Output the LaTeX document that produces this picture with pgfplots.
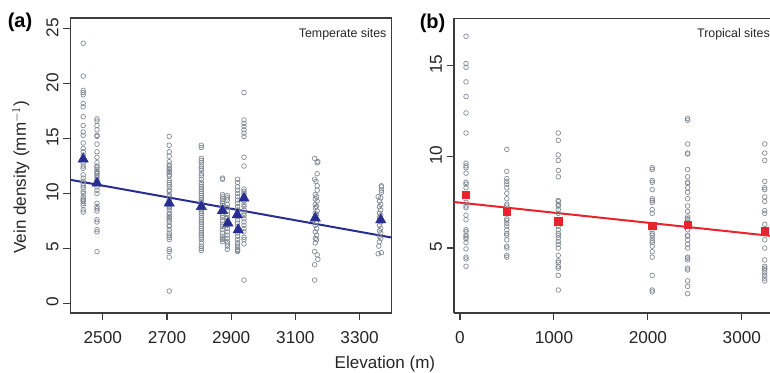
\documentclass[border=0pt]{standalone}
\usepackage{pgfplots}
\usepackage{pgfplotstable}
\pgfplotsset{compat=1.18}
\usepackage{fontspec}
\setmainfont{Liberation Sans}
\definecolor{ptgray}{RGB}{128,136,146}
\definecolor{dblue}{RGB}{40,45,145}
\definecolor{rred}{RGB}{232,35,45}
\definecolor{axgray}{RGB}{60,60,60}

\pgfplotstableread[row sep=\\]{
x y\\
2439 23.7\\ 2439 20.7\\ 2439 19.4\\ 2439 19.2\\ 2439 19.0\\ 2439 18.2\\ 2439 17.9\\ 2439 17.0\\ 2439 16.2\\ 2439 15.6\\ 2439 15.3\\ 2439 14.6\\ 2439 14.1\\ 2439 13.8\\ 2439 13.5\\ 2439 12.8\\ 2439 12.5\\ 2439 12.3\\ 2439 11.7\\ 2439 11.4\\ 2439 11.1\\ 2439 10.9\\ 2439 10.7\\ 2439 10.5\\ 2439 10.2\\ 2439 10.0\\ 2439 9.7\\ 2439 9.5\\ 2439 9.4\\ 2439 9.3\\ 2439 9.1\\ 2439 8.9\\ 2439 8.5\\ 2439 8.3\\
2482 16.8\\ 2482 16.6\\ 2482 16.2\\ 2482 15.8\\ 2482 15.3\\ 2482 15.2\\ 2482 14.5\\ 2482 13.8\\ 2482 13.3\\ 2482 12.8\\ 2482 12.5\\ 2482 12.4\\ 2482 12.2\\ 2482 12.0\\ 2482 11.9\\ 2482 11.8\\ 2482 11.6\\ 2482 11.4\\ 2482 11.2\\ 2482 10.9\\ 2482 10.6\\ 2482 10.3\\ 2482 10.0\\ 2482 9.1\\ 2482 8.8\\ 2482 8.6\\ 2482 8.4\\ 2482 7.6\\ 2482 7.4\\ 2482 6.7\\ 2482 6.5\\ 2482 4.7\\
2707 15.2\\ 2707 14.4\\ 2707 13.8\\ 2707 13.4\\ 2707 12.9\\ 2707 12.6\\ 2707 12.5\\ 2707 12.3\\ 2707 12.2\\ 2707 12.0\\ 2707 11.9\\ 2707 11.7\\ 2707 11.6\\ 2707 11.2\\ 2707 11.0\\ 2707 10.8\\ 2707 10.6\\ 2707 10.3\\ 2707 10.2\\ 2707 9.9\\ 2707 9.7\\ 2707 9.4\\ 2707 9.3\\ 2707 9.1\\ 2707 9.0\\ 2707 8.8\\ 2707 8.7\\ 2707 8.5\\ 2707 8.2\\ 2707 8.1\\ 2707 7.9\\ 2707 7.8\\ 2707 7.6\\ 2707 7.4\\ 2707 7.1\\ 2707 7.0\\ 2707 6.7\\ 2707 6.4\\ 2707 6.2\\ 2707 6.0\\ 2707 5.8\\ 2707 4.9\\ 2707 4.7\\ 2707 4.2\\ 2707 1.1\\
2807 14.4\\ 2807 14.2\\ 2807 13.2\\ 2807 13.0\\ 2807 12.8\\ 2807 12.5\\ 2807 12.3\\ 2807 12.1\\ 2807 11.8\\ 2807 11.6\\ 2807 11.3\\ 2807 11.0\\ 2807 10.8\\ 2807 10.6\\ 2807 10.4\\ 2807 10.2\\ 2807 10.0\\ 2807 9.8\\ 2807 9.6\\ 2807 9.4\\ 2807 9.2\\ 2807 9.0\\ 2807 8.8\\ 2807 8.6\\ 2807 8.4\\ 2807 8.2\\ 2807 8.0\\ 2807 7.8\\ 2807 7.6\\ 2807 7.4\\ 2807 7.2\\ 2807 7.0\\ 2807 6.8\\ 2807 6.6\\ 2807 6.4\\ 2807 6.2\\ 2807 6.0\\ 2807 5.8\\ 2807 5.5\\ 2807 5.2\\ 2807 5.0\\ 2807 4.8\\
2873 11.4\\ 2873 11.3\\ 2873 9.9\\ 2873 9.7\\ 2873 9.5\\ 2873 9.3\\ 2873 9.1\\ 2873 8.9\\ 2873 8.7\\ 2873 8.5\\ 2873 8.2\\ 2873 8.0\\ 2873 7.8\\ 2873 7.5\\ 2873 7.2\\ 2873 7.0\\ 2873 6.7\\ 2873 6.4\\ 2873 6.1\\ 2873 5.9\\ 2873 5.8\\ 2873 5.6\\
2888 9.8\\ 2888 9.6\\ 2888 9.4\\ 2888 9.0\\ 2888 8.7\\ 2888 8.4\\ 2888 8.1\\ 2888 7.8\\ 2888 7.5\\ 2888 7.1\\ 2888 6.8\\ 2888 6.5\\ 2888 6.2\\ 2888 5.9\\ 2888 5.6\\ 2888 5.4\\ 2888 5.2\\ 2888 4.9\\
2920 11.3\\ 2920 11.0\\ 2920 10.6\\ 2920 10.3\\ 2920 10.0\\ 2920 9.7\\ 2920 9.4\\ 2920 9.1\\ 2920 8.8\\ 2920 8.5\\ 2920 8.2\\ 2920 7.9\\ 2920 7.6\\ 2920 7.3\\ 2920 7.0\\ 2920 6.7\\ 2920 6.4\\ 2920 6.1\\ 2920 5.8\\ 2920 5.5\\ 2920 5.3\\ 2920 5.1\\ 2920 4.9\\ 2920 4.8\\ 2920 4.7\\
2940 19.2\\ 2940 16.7\\ 2940 16.4\\ 2940 16.1\\ 2940 15.8\\ 2940 15.5\\ 2940 15.2\\ 2940 13.3\\ 2940 12.5\\ 2940 10.4\\ 2940 10.2\\ 2940 10.0\\ 2940 9.8\\ 2940 9.6\\ 2940 9.3\\ 2940 9.0\\ 2940 8.8\\ 2940 8.5\\ 2940 8.2\\ 2940 8.0\\ 2940 7.7\\ 2940 7.4\\ 2940 7.1\\ 2940 6.8\\ 2940 6.5\\ 2940 6.0\\ 2940 5.8\\ 2940 5.4\\ 2940 2.1\\
3160 13.2\\ 3170 12.9\\ 3168 12.8\\ 3168 11.8\\ 3160 11.3\\ 3164 11.1\\ 3168 10.7\\ 3168 10.3\\ 3162 9.9\\ 3166 9.7\\ 3162 9.5\\ 3168 9.3\\ 3162 9.0\\ 3166 8.8\\ 3162 8.7\\ 3168 8.4\\ 3162 8.2\\ 3166 8.1\\ 3162 7.9\\ 3166 7.4\\ 3162 7.1\\ 3166 6.8\\ 3162 6.5\\ 3166 6.2\\ 3162 5.9\\ 3166 5.8\\ 3162 5.5\\ 3160 4.7\\ 3168 4.4\\ 3170 4.0\\ 3160 3.5\\ 3160 2.1\\
3368 10.7\\ 3368 10.6\\ 3368 10.3\\ 3368 10.1\\ 3358 9.7\\ 3366 9.6\\ 3362 9.3\\ 3366 9.0\\ 3362 8.8\\ 3366 8.5\\ 3362 8.2\\ 3366 8.0\\ 3362 7.8\\ 3366 7.4\\ 3362 7.1\\ 3366 6.8\\ 3362 6.6\\ 3366 6.4\\ 3362 6.1\\ 3366 5.9\\ 3362 5.6\\ 3360 5.2\\ 3358 4.5\\ 3368 4.6\\
}\temppts

\pgfplotstableread[row sep=\\]{
x y\\
2439 13.13\\ 2482 10.94\\ 2707 9.12\\ 2807 8.80\\ 2873 8.44\\ 2890 7.29\\ 2919 8.05\\ 2922 6.68\\ 2940 9.57\\ 3162 7.75\\ 3366 7.59\\
}\tempmeans

\pgfplotstableread[row sep=\\]{
x y\\
64 16.6\\ 64 15.1\\ 64 14.9\\ 64 14.1\\ 64 13.3\\ 64 12.4\\ 64 11.3\\ 64 9.65\\ 64 9.5\\ 64 9.4\\ 64 9.1\\ 64 8.6\\ 64 8.5\\ 64 8.3\\ 64 7.5\\ 64 7.3\\ 64 7.2\\ 64 6.8\\ 64 6.55\\ 64 6.0\\ 64 5.9\\ 64 5.7\\ 64 5.6\\ 64 5.5\\ 64 5.3\\ 64 4.95\\ 64 4.5\\ 64 4.4\\ 64 4.0\\
498 10.4\\ 498 9.2\\ 498 8.8\\ 498 8.65\\ 498 8.5\\ 498 8.3\\ 498 8.0\\ 498 7.7\\ 498 7.4\\ 498 7.3\\ 498 7.1\\ 498 6.9\\ 498 6.6\\ 498 6.5\\ 498 6.35\\ 498 6.2\\ 498 6.0\\ 498 5.8\\ 498 5.7\\ 498 5.45\\ 498 5.1\\ 498 5.0\\ 498 4.6\\ 498 4.5\\
1046 11.3\\ 1046 10.9\\ 1046 10.1\\ 1046 9.8\\ 1046 9.25\\ 1046 8.9\\ 1046 7.6\\ 1046 7.55\\ 1046 7.4\\ 1046 7.3\\ 1046 7.1\\ 1046 6.9\\ 1046 6.55\\ 1046 6.4\\ 1046 6.2\\ 1046 6.0\\ 1046 5.8\\ 1046 5.7\\ 1046 5.55\\ 1046 5.35\\ 1046 5.2\\ 1046 5.0\\ 1046 4.6\\ 1046 4.3\\ 1046 4.2\\ 1046 4.0\\ 1046 3.9\\ 1046 3.5\\ 1046 2.7\\
2046 9.4\\ 2046 9.3\\ 2046 8.7\\ 2046 8.6\\ 2046 8.2\\ 2046 7.7\\ 2046 7.6\\ 2046 7.5\\ 2046 7.1\\ 2046 6.9\\ 2046 6.0\\ 2046 5.8\\ 2046 5.7\\ 2046 5.55\\ 2046 5.4\\ 2046 5.3\\ 2046 5.1\\ 2046 4.8\\ 2046 4.5\\ 2046 3.5\\ 2046 2.7\\ 2046 2.6\\
2423 12.1\\ 2423 12.0\\ 2423 10.7\\ 2423 10.2\\ 2423 10.15\\ 2423 9.3\\ 2423 8.9\\ 2423 8.6\\ 2423 8.55\\ 2423 8.3\\ 2423 8.05\\ 2423 7.7\\ 2423 7.3\\ 2423 7.0\\ 2423 6.7\\ 2423 6.6\\ 2423 6.55\\ 2423 6.4\\ 2423 6.0\\ 2423 5.7\\ 2423 5.65\\ 2423 5.45\\ 2423 5.2\\ 2423 5.0\\ 2423 4.5\\ 2423 4.45\\ 2423 4.35\\ 2423 3.9\\ 2423 3.8\\ 2423 3.2\\ 2423 2.9\\ 2423 2.5\\
3244 10.7\\ 3244 10.2\\ 3244 9.8\\ 3244 8.65\\ 3244 8.3\\ 3244 8.2\\ 3244 7.8\\ 3244 7.55\\ 3244 7.05\\ 3244 6.9\\ 3244 6.3\\ 3244 5.8\\ 3244 5.45\\ 3244 5.0\\ 3244 4.35\\ 3244 4.0\\ 3244 3.9\\ 3244 3.8\\ 3244 3.65\\ 3244 3.5\\ 3244 3.35\\ 3244 3.2\\
}\troppts

\pgfplotstableread[row sep=\\]{
x y\\
64 7.92\\ 498 6.99\\ 1046 6.46\\ 2046 6.22\\ 2423 6.28\\ 3244 5.91\\
}\tropmeans

\pgfplotsset{
  myaxis/.style={
    scale only axis, width=240.75pt, height=221.25pt,
    anchor=south west,
    tick align=outside, tick pos=left, major tick length=5.5pt,
    axis line style={draw=axgray, line width=0.8pt},
    every tick/.style={draw=axgray, line width=0.8pt},
    scaled ticks=false,
    /pgf/number format/1000 sep={},
    /pgf/number format/assume math mode=true,
    tick label style={font=\fontsize{12.9}{15}\selectfont, text=black!85},
    xticklabel style={yshift=-5pt},
    yticklabel style={rotate=90, anchor=south, xshift=1pt},
  },
  ptstyle/.style={only marks, mark=o, mark size=1.75pt, mark options={draw=ptgray, line width=0.5pt}},
}

\begin{document}
\begin{tikzpicture}
\begin{axis}[myaxis, at={(0pt,0pt)},
  xmin=2400, xmax=3400, ymin=-0.9, ymax=26,
  xtick={2500,2700,2900,3100,3300}, ytick={0,5,10,15,20,25}]
\addplot[ptstyle] table[x=x,y=y] {\temppts};
\addplot[dblue, line width=1.5pt] coordinates {(2400,11.24) (3400,5.98)};
\addplot[only marks, mark=triangle*, mark size=4.4pt, mark options={fill=dblue, draw=dblue}] table[x=x,y=y] {\tempmeans};
\node[anchor=north east, inner sep=0pt, font=\fontsize{9.3}{11}\selectfont, text=black!85] at (rel axis cs:1,1) [xshift=-3.75pt, yshift=-8pt] {Temperate sites};
\end{axis}
\begin{axis}[myaxis, at={(287.5pt,0pt)},
  xmin=-64, xmax=3300, ymin=1.44, ymax=17.6, width=237pt,
  axis x line*=bottom, axis y line*=left,
  xtick={0,1000,2000,3000}, ytick={5,10,15}]
\addplot[ptstyle] table[x=x,y=y] {\troppts};
\addplot[rred, line width=1.5pt] coordinates {(-64,7.52) (3300,5.67)};
\addplot[only marks, mark=square*, mark size=2.8pt, mark options={fill=rred, draw=rred}] table[x=x,y=y] {\tropmeans};
\draw[axgray, line width=0.8pt] (rel axis cs:0,1) -- (rel axis cs:1,1);
\node[anchor=north east, inner sep=0pt, font=\fontsize{9.3}{11}\selectfont, text=black!85] at (rel axis cs:1,1) [xshift=0pt, yshift=-8pt] {Tropical sites};
\end{axis}
\node[font=\fontsize{12.8}{15}\selectfont, text=black!85] at (235.7pt,-38.5pt) {Elevation (m)};
\node[rotate=90, font=\fontsize{12.8}{15}\selectfont, text=black!85] at (-37.3pt,102pt) {Vein density (mm$^{-1}$)};
\node[font=\bfseries\fontsize{15}{17}\selectfont] at (-38pt,217.9pt) {(a)};
\node[font=\bfseries\fontsize{15}{17}\selectfont] at (271.4pt,217.5pt) {(b)};
\pgfresetboundingbox
\path[use as bounding box] (-53pt,-44.25pt) rectangle (524.5pt,234.75pt);
\end{tikzpicture}
\end{document}
